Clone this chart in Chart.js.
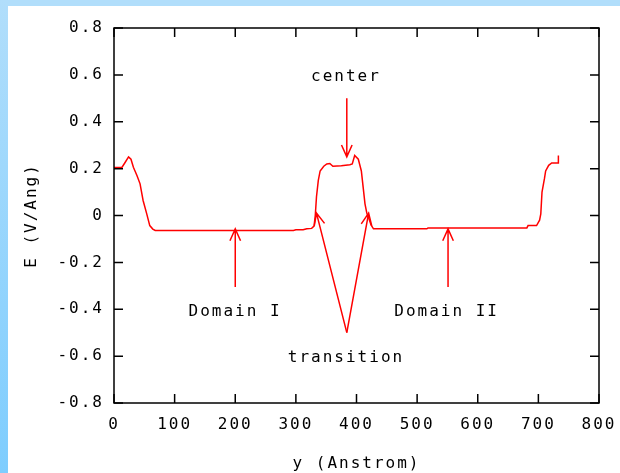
<!DOCTYPE html>
<html>
<head>
<meta charset="utf-8">
<script src="https://cdn.jsdelivr.net/npm/chart.js@4.4.1/dist/chart.umd.min.js"></script>
<style>
  html, body { margin: 0; padding: 0; background: #fff; }
  body { width: 620px; height: 473px; position: relative; overflow: hidden; }
  #top-bar { position: absolute; left: 0; top: 0; width: 620px; height: 6px; background: #b1defb; }
  #left-bar { position: absolute; left: 0; top: 0; width: 8px; height: 473px; background: linear-gradient(#b1defb, #7ecdfe); }
  #wrap { position: absolute; left: 8px; top: 6px; width: 612px; height: 467px; }
</style>
</head>
<body>
<div id="top-bar"></div>
<div id="left-bar"></div>
<div id="wrap"><canvas id="efield" width="612" height="467"></canvas></div>
<script>
// --- values ---
const posY = [0, 13, 18, 24, 28, 32, 38, 43, 48, 54, 59, 64, 68, 296, 300, 312, 318, 326, 330, 332, 334, 337, 340, 346,
  351, 356, 361, 375, 389, 393, 397, 403, 408, 411, 414, 417, 420, 424, 428, 516, 518, 681, 683, 697, 702, 704, 706, 710,
  712, 717, 722, 733, 733];
const fieldE = [0.205, 0.205, 0.225, 0.25, 0.24, 0.206, 0.17, 0.135, 0.064, 0.007, -0.043, -0.058, -0.064, -0.064, -0.061,
  -0.061, -0.057, -0.055, -0.045, 0.0, 0.08, 0.15, 0.19, 0.21, 0.22, 0.222, 0.21, 0.212, 0.217, 0.22, 0.256, 0.24, 0.19,
  0.12, 0.05, 0.01, -0.01, -0.04, -0.057, -0.057, -0.053, -0.053, -0.043, -0.043, -0.02, 0.007, 0.1, 0.157, 0.19, 0.214,
  0.224, 0.224, 0.256];

const xTicks = [0, 100, 200, 300, 400, 500, 600, 700, 800];
const yTicks = [-0.8, -0.6, -0.4, -0.2, 0, 0.2, 0.4, 0.6, 0.8];
const yTickLabels = ['-0.8', '-0.6', '-0.4', '-0.2', '0', '0.2', '0.4', '0.6', '0.8'];

// labels and arrows, in data units
const noteText = ['center', 'Domain I', 'Domain II', 'transition'];
const noteX = [381, 198, 547, 381];
const noteY = [0.59, -0.41, -0.41, -0.607];
const arrowFromX = [384, 200, 551, 384, 384];
const arrowFromY = [0.50, -0.305, -0.305, -0.50, -0.50];
const arrowToX = [384, 200, 551, 334, 420];
const arrowToY = [0.25, -0.057, -0.057, 0.01, 0.01];

const FONT = { family: "'DejaVu Sans Mono', monospace", size: 16 };
const TEXT_COLOR = '#000';
const LINE_RED = '#ff0000';

const gnuplotFrame = {
  id: 'gnuplotFrame',
  beforeDraw(chart) {
    chart.ctx.letterSpacing = '2px';
  },
  afterDraw(chart) {
    const { ctx, chartArea: a, scales: { x, y } } = chart;
    ctx.save();
    ctx.strokeStyle = '#000';
    ctx.lineWidth = 1.5;
    ctx.strokeRect(a.left, a.top, a.right - a.left, a.bottom - a.top);

    // inward ticks, mirrored on all four sides
    const tl = 9;
    ctx.beginPath();
    xTicks.forEach(v => {
      const px = x.getPixelForValue(v);
      ctx.moveTo(px, a.bottom); ctx.lineTo(px, a.bottom - tl);
      ctx.moveTo(px, a.top); ctx.lineTo(px, a.top + tl);
    });
    yTicks.forEach(v => {
      const py = y.getPixelForValue(v);
      ctx.moveTo(a.left, py); ctx.lineTo(a.left + tl, py);
      ctx.moveTo(a.right, py); ctx.lineTo(a.right - tl, py);
    });
    ctx.stroke();

    // arrows
    ctx.strokeStyle = LINE_RED;
    ctx.lineWidth = 1.5;
    arrowFromX.forEach((fx, i) => {
      const x0 = x.getPixelForValue(fx), y0 = y.getPixelForValue(arrowFromY[i]);
      const x1 = x.getPixelForValue(arrowToX[i]), y1 = y.getPixelForValue(arrowToY[i]);
      const ang = Math.atan2(y1 - y0, x1 - x0);
      const len = 13, spread = 0.42;
      ctx.beginPath();
      ctx.moveTo(x0, y0); ctx.lineTo(x1, y1);
      ctx.moveTo(x1 - len * Math.cos(ang - spread), y1 - len * Math.sin(ang - spread));
      ctx.lineTo(x1, y1);
      ctx.lineTo(x1 - len * Math.cos(ang + spread), y1 - len * Math.sin(ang + spread));
      ctx.stroke();
    });

    // text notes
    ctx.fillStyle = TEXT_COLOR;
    ctx.font = `${FONT.size}px ${FONT.family}`;
    ctx.textAlign = 'center';
    ctx.textBaseline = 'middle';
    noteText.forEach((t, i) => {
      ctx.fillText(t, x.getPixelForValue(noteX[i]) + 1, y.getPixelForValue(noteY[i]));
    });
    ctx.restore();
  }
};

new Chart(document.getElementById('efield'), {
  type: 'scatter',
  data: {
    datasets: [{
      data: posY.map((v, i) => ({ x: v, y: fieldE[i] })),
      showLine: true, borderColor: LINE_RED, borderWidth: 1.5, pointRadius: 0, tension: 0
    }]
  },
  options: {
    responsive: false, animation: false, devicePixelRatio: 1,
    layout: { padding: { top: 22, right: 21, bottom: 0, left: 0 } },
    plugins: { legend: { display: false }, tooltip: { enabled: false } },
    scales: {
      x: {
        type: 'linear', min: 0, max: 800,
        afterBuildTicks: s => { s.ticks = xTicks.map(v => ({ value: v })); },
        afterFit: s => { s.height = 70; s.paddingLeft = 0; s.paddingRight = 0; },
        ticks: { color: TEXT_COLOR, font: FONT, padding: 12, maxRotation: 0, autoSkip: false },
        grid: { display: false, drawTicks: false },
        border: { display: false },
        title: { display: true, text: 'y (Anstrom)', color: TEXT_COLOR, font: FONT, padding: { top: 0, bottom: 0 } }
      },
      y: {
        type: 'linear', min: -0.8, max: 0.8,
        afterBuildTicks: s => { s.ticks = yTicks.map(v => ({ value: v })); },
        afterFit: s => { s.width = 106; s.paddingTop = 0; s.paddingBottom = 0; },
        ticks: {
          color: TEXT_COLOR, font: FONT, padding: 10, autoSkip: false,
          callback: (val, idx) => yTickLabels[idx]
        },
        grid: { display: false, drawTicks: false },
        border: { display: false },
        title: { display: true, text: 'E (V/Ang)', color: TEXT_COLOR, font: FONT, padding: { top: 14, bottom: 0 } }
      }
    }
  },
  plugins: [gnuplotFrame]
});
</script>
</body>
</html>
